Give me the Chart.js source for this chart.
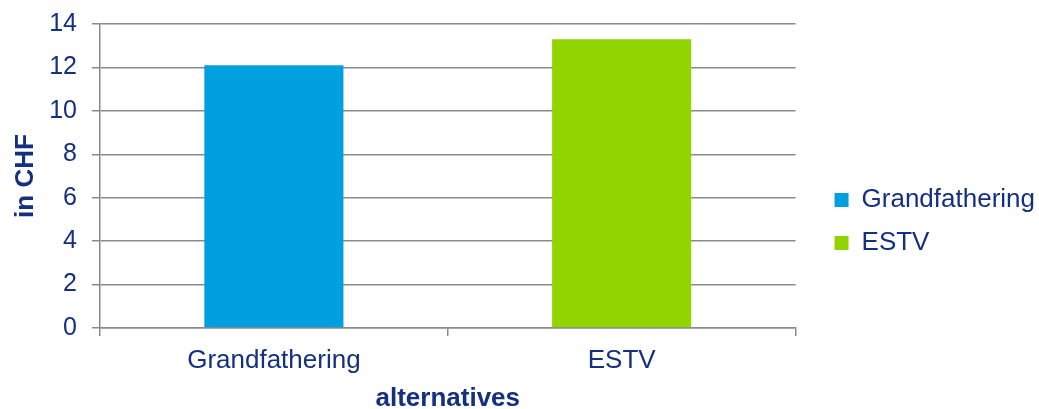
<!DOCTYPE html>
<html>
<head>
<meta charset="utf-8">
<script src="https://cdn.jsdelivr.net/npm/chart.js@4"></script>
<style>
  html, body { margin: 0; padding: 0; background: #fff; }
  #wrap { width: 1039px; height: 409px; }
</style>
</head>
<body>
<div id="wrap"><canvas id="chart" width="1039" height="409"></canvas></div>
<script>
// data
const categories = ['Grandfathering', 'ESTV'];
const values = [12.1, 13.3];
const barColors = ['#00A0E0', '#92D400'];
const yTicks = [0, 2, 4, 6, 8, 10, 12, 14];

const TEXT = '#14307F';
const GRID = '#8A8A8A';
const FONT = 'Liberation Sans, Arial';

// move the legend to where the original puts it
const legendShift = {
  id: 'legendShift',
  afterLayout(chart) {
    const lg = chart.legend;
    const dx = 22, dy = 5;
    lg.left += dx; lg.right += dx;
    lg.top += dy; lg.bottom += dy;
  }
};

const ctx = document.getElementById('chart').getContext('2d');
new Chart(ctx, {
  type: 'bar',
  data: {
    labels: categories,
    datasets: [{
      data: values,
      backgroundColor: barColors,
      borderWidth: 0,
      categoryPercentage: 1,
      barPercentage: 0.4
    }]
  },
  options: {
    responsive: false,
    animation: false,
    layout: { padding: { top: 24, right: 16, bottom: 0, left: 0 } },
    plugins: {
      tooltip: { enabled: false },
      legend: {
        position: 'right',
        labels: {
          color: TEXT,
          font: { family: FONT, size: 26 },
          boxWidth: 14,
          boxHeight: 14,
          padding: 17,
          generateLabels: chart => categories.map((c, i) => ({
            text: c,
            fillStyle: barColors[i],
            strokeStyle: barColors[i],
            lineWidth: 0,
            fontColor: TEXT,
            index: i
          }))
        }
      }
    },
    scales: {
      x: {
        offset: true,
        grid: { display: true, offset: true, drawOnChartArea: false, drawTicks: true, tickLength: 8, color: GRID, lineWidth: 1.5 },
        border: { display: true, color: GRID, width: 1.5 },
        ticks: { color: TEXT, font: { family: FONT, size: 26 }, padding: 9 },
        title: {
          display: true, text: 'alternatives', color: TEXT,
          font: { family: FONT, size: 26, weight: 'bold', lineHeight: 0.8 },
          padding: { top: 0, bottom: 0 }
        },
        afterFit(scale) { scale.height = 81; }
      },
      y: {
        min: 0,
        max: 14,
        afterBuildTicks(scale) { scale.ticks = yTicks.map(v => ({ value: v })); },
        grid: { color: GRID, lineWidth: 1.5, drawTicks: true, tickLength: 8 },
        border: { display: true, color: GRID, width: 1.5 },
        ticks: { color: TEXT, font: { family: FONT, size: 25 }, padding: 15 },
        title: {
          display: true, text: 'in CHF', color: TEXT,
          font: { family: FONT, size: 26, weight: 'bold', lineHeight: 1 },
          padding: { top: 13, bottom: 0 }
        },
        afterFit(scale) {
          scale.width = 100;
          scale.paddingTop = 0;
          scale.paddingBottom = 0;
        }
      }
    }
  },
  plugins: [legendShift]
});
</script>
</body>
</html>
